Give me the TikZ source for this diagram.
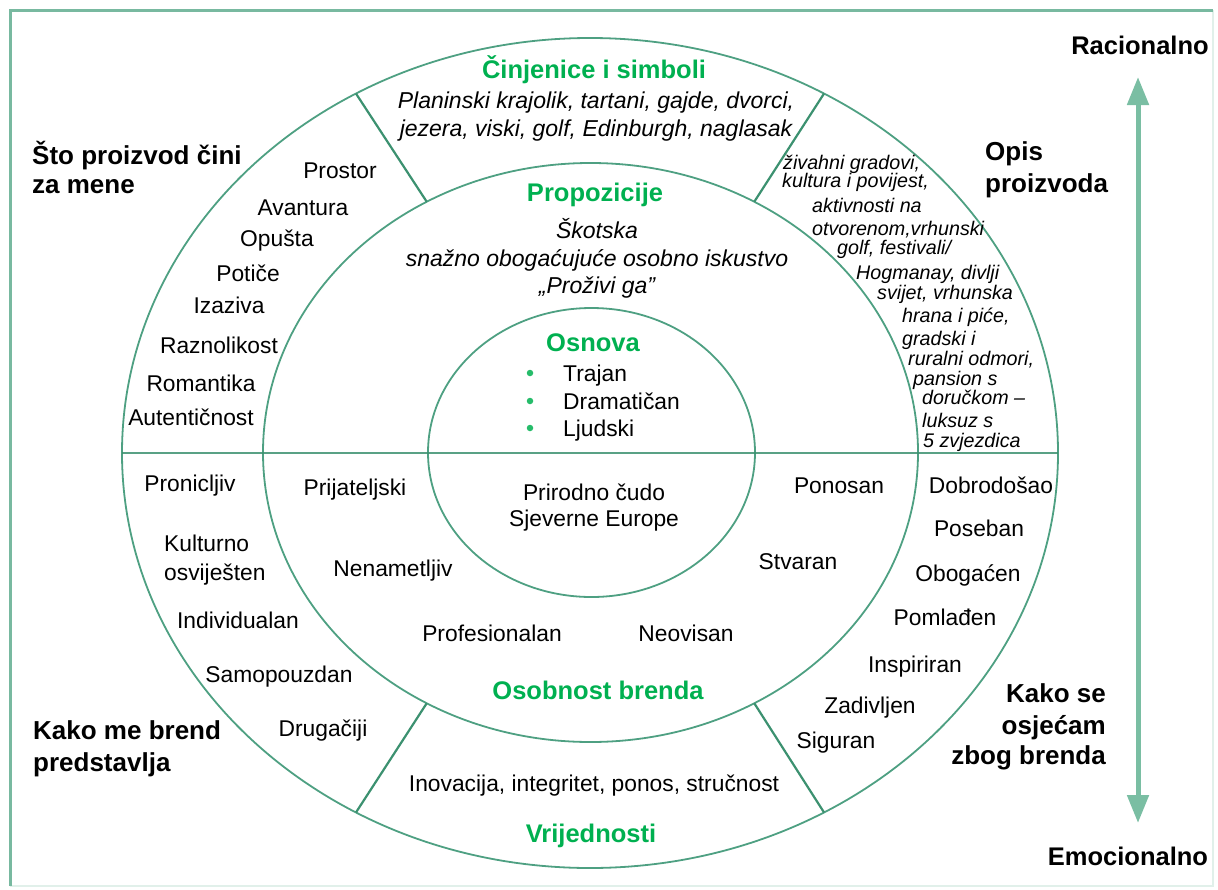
\documentclass[tikz,border=0pt]{standalone}
\usepackage{fontspec}
\setmainfont{Liberation Sans}
\usetikzlibrary{arrows.meta}
\definecolor{ring}{RGB}{78,160,130}
\definecolor{divc}{RGB}{60,145,112}
\definecolor{framec}{RGB}{120,185,160}
\definecolor{framefaint}{RGB}{225,240,234}
\definecolor{arrc}{RGB}{122,190,163}
\definecolor{headg}{RGB}{0,176,80}
\tikzset{
  ringline/.style={draw=ring, line width=1.8pt},
  divline/.style={draw=divc, line width=2.2pt},
  lbl/.style={font=\fontsize{22.8}{27}\selectfont, inner sep=0pt, anchor=base, yshift=-8.2pt},
  lblw/.style={lbl, anchor=base west},
  itl/.style={font=\fontsize{23}{27}\selectfont\itshape, inner sep=0pt, anchor=base, yshift=-8.3pt},
  sml/.style={font=\fontsize{19.7}{23}\selectfont\itshape, inner sep=0pt, anchor=base west, yshift=-7.1pt},
  head/.style={font=\fontsize{25.5}{30}\selectfont\bfseries, text=headg, inner sep=0pt, anchor=base, yshift=-9.2pt},
  big/.style={font=\fontsize{26}{31}\selectfont\bfseries, inner sep=0pt, anchor=base west, yshift=-9.3pt},
  bige/.style={big, anchor=base east},
  bigc/.style={font=\fontsize{25.5}{30}\selectfont\bfseries, inner sep=0pt, anchor=base, yshift=-9.2pt},
  bul/.style={circle, fill=headg!85!white, inner sep=0pt, minimum size=6.5pt}
}
\begin{document}
\begin{tikzpicture}[x=1pt,y=-1pt]
\useasboundingbox (0,0) rectangle (1218,889);
% frame
\coordinate (fTL) at (10,10);
\coordinate (fTR) at (1213,10);
\coordinate (fBL) at (10,886);
\coordinate (fBR) at (1213,886);
\draw[framefaint, line width=2pt] (fTR) -- (fBR) -- (fBL);
\draw[framec, line width=3pt] (fBL) -- (fTL) -- (fTR);
% ellipses
\draw[ringline] (590,453) ellipse [x radius=468, y radius=415];
\draw[ringline] (590.5,452.5) ellipse [x radius=327.5, y radius=289.5];
\draw[ringline] (591.5,452.5) ellipse [x radius=163.5, y radius=144.5];
% horizontal line
\coordinate (hL) at (122,453);
\coordinate (hR) at (1058,453);
\draw[divc, line width=2.8pt, opacity=0.85] (hL) -- (hR);
% dividers
\foreach \a/\n in {60/a,120/b,240/c,300/d}{
  \coordinate (o\n) at ({590+468*cos(\a)},{453-415*sin(\a)});
  \coordinate (m\n) at ({590.5+327.5*cos(\a)},{452.5-289.5*sin(\a)});
  \draw[divline] (o\n) -- (m\n);
}
% arrow
\coordinate (arT) at (1138,77);
\coordinate (arB) at (1138,823);
\draw[arrc, line width=5pt, {Triangle[width=21pt,length=28pt]}-{Triangle[width=21pt,length=28pt]}] (arT) -- (arB);
\node[bigc] (rac) at (1140,45) {Racionalno};
\node[bigc] (emo) at (1128,856) {Emocionalno};
% corner labels
\node[big] (sto1) at (32,155) {Što proizvod čini};
\node[big] (sto2) at (32,184) {za mene};
\node[big] (kme1) at (33,730) {Kako me brend};
\node[big] (kme2) at (33,762) {predstavlja};
\node[big] (opis1) at (985,151) {Opis};
\node[big] (opis2) at (985,183) {proizvoda};
\node[bige] (kse1) at (1106,693) {Kako se};
\node[bige] (kse2) at (1106,725) {osjećam};
\node[bige] (kse3) at (1106,755) {zbog brenda};
% top segment
\node[head] (cin) at (594,69) {Činjenice i simboli};
\node[itl] (cin1) at (596,100) {Planinski krajolik, tartani, gajde, dvorci,};
\node[itl] (cin2) at (596,128) {jezera, viski, golf, Edinburgh, naglasak};
% propositions
\node[head] (prop) at (595,192) {Propozicije};
\node[itl] (prop1) at (597,230) {Škotska};
\node[itl] (prop2) at (597,258) {snažno obogaćujuće osobno iskustvo};
\node[itl] (prop3) at (597,285) {„Proživi ga”};
% core
\node[head] (osn) at (593,342) {Osnova};
\node[bul] (b1) at (530,373) {};
\node[bul] (b2) at (530,401) {};
\node[bul] (b3) at (530,428) {};
\node[lblw] (t1) at (563,373) {Trajan};
\node[lblw] (t2) at (563,401) {Dramatičan};
\node[lblw] (t3) at (563,428) {Ljudski};
\node[lbl] (pc1) at (594,492) {Prirodno čudo};
\node[lbl] (pc2) at (594,518) {Sjeverne Europe};
% upper left outer
\node[lbl] (ul1) at (340,170) {Prostor};
\node[lbl] (ul2) at (303,207) {Avantura};
\node[lbl] (ul3) at (277,238) {Opušta};
\node[lbl] (ul4) at (248,273) {Potiče};
\node[lbl] (ul5) at (229,305) {Izaziva};
\node[lbl] (ul6) at (219,345) {Raznolikost};
\node[lbl] (ul7) at (201,383) {Romantika};
\node[lbl] (ul8) at (191,417) {Autentičnost};
% lower left outer
\node[lbl] (ll1) at (190,483) {Pronicljiv};
\node[lblw] (ll2) at (164,543) {Kulturno};
\node[lblw] (ll3) at (164,572) {osviješten};
\node[lbl] (ll4) at (238,620) {Individualan};
\node[lbl] (ll5) at (279,674) {Samopouzdan};
\node[lbl] (ll6) at (323,728) {Drugačiji};
% personality
\node[lbl] (p1) at (355,487) {Prijateljski};
\node[lbl] (p2) at (393,568) {Nenametljiv};
\node[lbl] (p3) at (492,633) {Profesionalan};
\node[lbl] (p4) at (686,633) {Neovisan};
\node[lbl] (p5) at (798,561) {Stvaran};
\node[lbl] (p6) at (839,485) {Ponosan};
\node[head] (osb) at (598,690) {Osobnost brenda};
% values
\node[lbl] (val1) at (594,783) {Inovacija, integritet, ponos, stručnost};
\node[head] (val) at (591,833) {Vrijednosti};
% lower right outer
\node[lbl] (lr1) at (991,485) {Dobrodošao};
\node[lbl] (lr2) at (979,528) {Poseban};
\node[lbl] (lr3) at (968,573) {Obogaćen};
\node[lbl] (lr4) at (945,617) {Pomlađen};
\node[lbl] (lr5) at (915,664) {Inspiriran};
\node[lbl] (lr6) at (870,705) {Zadivljen};
\node[lbl] (lr7) at (836,740) {Siguran};
% upper right outer
\node[sml] (ur1) at (783,162) {živahni gradovi,};
\node[sml] (ur2) at (782,180) {kultura i povijest,};
\node[sml] (ur3) at (812,205) {aktivnosti na};
\node[sml] (ur4) at (812,228) {otvorenom,vrhunski};
\node[sml] (ur5) at (837,247) {golf, festivali/};
\node[sml] (ur6) at (856,272) {Hogmanay, divlji};
\node[sml] (ur7) at (877,292) {svijet, vrhunska};
\node[sml] (ur8) at (902,315) {hrana i piće,};
\node[sml] (ur9) at (902,338) {gradski i};
\node[sml] (ur10) at (908,358) {ruralni odmori,};
\node[sml] (ur11) at (913,378) {pansion s};
\node[sml] (ur12) at (922,397) {doručkom –};
\node[sml] (ur13) at (922,420) {luksuz s};
\node[sml] (ur14) at (923,440) {5 zvjezdica};
\end{tikzpicture}
\end{document}
